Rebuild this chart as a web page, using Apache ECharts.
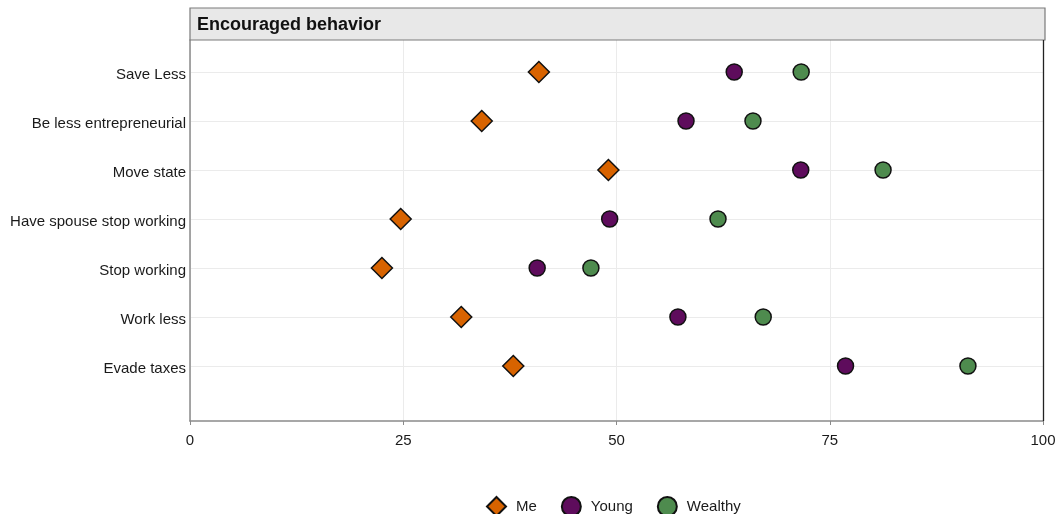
<!DOCTYPE html>
<html>
<head>
<meta charset="utf-8">
<script src="https://cdn.jsdelivr.net/npm/echarts@6/dist/echarts.min.js"></script>
<style>
html,body{margin:0;padding:0;background:#fff;}
#chart{width:1058px;height:514px;}
</style>
</head>
<body>
<div id="chart"></div>
<script>
// Categories from top to bottom
const categories = ["Save Less", "Be less entrepreneurial", "Move state", "Have spouse stop working", "Stop working", "Work less", "Evade taxes"];
const meValues      = [40.9, 34.2, 49.05, 24.7, 22.5, 31.8, 37.9];
const youngValues   = [63.8, 58.15, 71.6, 49.2, 40.7, 57.2, 76.85];
const wealthyValues = [71.65, 66.0, 81.25, 61.9, 47.0, 67.2, 91.2];
const xTicks = [0, 25, 50, 75, 100];
const panelTitle = "Encouraged behavior";

const n = categories.length;
// row position: top category gets highest value
const rowPos = categories.map((c, i) => n - i);
function pts(vals) { return vals.map((v, i) => [v, rowPos[i]]); }

const chart = echarts.init(document.getElementById('chart'));
const font = 'Liberation Sans, Arial, Helvetica, sans-serif';
const colors = {me: '#D86300', young: '#5E0C5C', wealthy: '#4E8B4E'};

const option = {
  animation: false,
  backgroundColor: '#ffffff',
  textStyle: {fontFamily: font},
  grid: {left: 190, right: 15, top: 40, bottom: 93, containLabel: false, outerBoundsMode: 'none'},
  xAxis: {
    type: 'value', min: xTicks[0], max: xTicks[xTicks.length - 1], interval: 25,
    axisLine: {show: true, onZero: false, lineStyle: {color: '#8a8a8a', width: 1.5}},
    axisTick: {show: true, length: 4, lineStyle: {color: '#8a8a8a', width: 1}},
    axisLabel: {color: '#1a1a1a', fontSize: 15, margin: 12, fontFamily: font},
    splitLine: {show: true, lineStyle: {color: '#ebebeb', width: 1}}
  },
  yAxis: {
    type: 'value', min: 1 - 55/49, max: n + 32/49,
    axisLine: {show: true, onZero: false, lineStyle: {color: '#8a8a8a', width: 1.5}},
    axisTick: {show: false, customValues: rowPos},
    axisLabel: {
      customValues: rowPos, color: '#1a1a1a', fontSize: 15, margin: 4, fontFamily: font,
      formatter: v => '{a|' + (categories[n - Math.round(v)] || '') + '}',
      rich: {a: {fontSize: 15, color: '#1a1a1a', fontFamily: font, padding: [5, 0, 0, 0]}}
    },
    splitLine: {show: true, lineStyle: {color: '#ebebeb', width: 1}}
  },
  legend: {
    top: 491, left: 481, itemGap: 24, itemWidth: 19, itemHeight: 19,
    textStyle: {fontSize: 15, color: '#1a1a1a', fontFamily: font, padding: [0, 0, 0, 5]},
    data: ['Me', 'Young', 'Wealthy']
  },
  series: [
    {name: 'Me', type: 'scatter', symbol: 'diamond', symbolSize: 21, data: pts(meValues),
     itemStyle: {color: colors.me, borderColor: '#111', borderWidth: 1.5, opacity: 1}, z: 3},
    {name: 'Young', type: 'scatter', symbol: 'circle', symbolSize: 16, data: pts(youngValues),
     itemStyle: {color: colors.young, borderColor: '#111', borderWidth: 1.5, opacity: 1}, z: 3},
    {name: 'Wealthy', type: 'scatter', symbol: 'circle', symbolSize: 16, data: pts(wealthyValues),
     itemStyle: {color: colors.wealthy, borderColor: '#111', borderWidth: 1.5, opacity: 1}, z: 3}
  ],
  graphic: [
    {type: 'rect', shape: {x: 190, y: 8, width: 855, height: 32},
     style: {fill: '#e8e8e8', stroke: '#7a7a7a', lineWidth: 1.2}, z: 10},
    {type: 'text', x: 197, y: 25, z: 11,
     style: {text: panelTitle, fill: '#111', font: 'bold 18px ' + font, verticalAlign: 'middle'}},
    {type: 'line', shape: {x1: 1043.5, y1: 40, x2: 1043.5, y2: 421}, style: {stroke: '#222', lineWidth: 1.3}, z: 10}
  ]
};
chart.setOption(option);
</script>
</body>
</html>
